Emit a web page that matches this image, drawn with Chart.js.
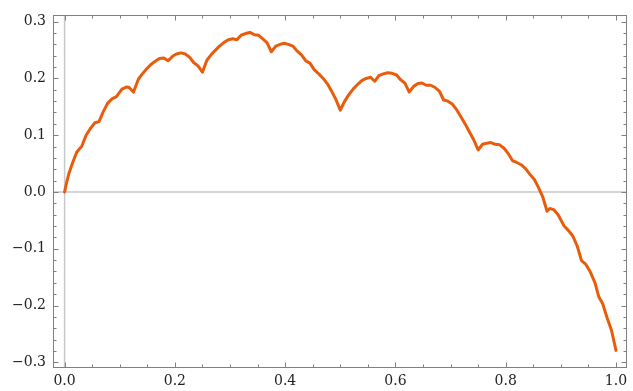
<!DOCTYPE html>
<html>
<head>
<meta charset="utf-8">
<script src="https://cdn.jsdelivr.net/npm/chart.js@4"></script>
<style>
  html, body { margin: 0; padding: 0; background: #fff; }
  #wrap { width: 633px; height: 391px; }
</style>
</head>
<body>
<div id="wrap"><canvas id="plot"></canvas></div>
<script>
// values
const xs = [0, 0.004, 0.008, 0.013, 0.016, 0.022, 0.028, 0.031, 0.039, 0.047, 0.055, 0.0625,
  0.070, 0.078, 0.086, 0.094, 0.104, 0.113, 0.117, 0.125,
  0.134, 0.141, 0.149, 0.156, 0.164, 0.172, 0.180, 0.1875,
  0.197, 0.203, 0.211, 0.219, 0.227, 0.234, 0.242, 0.25,
  0.258, 0.266, 0.276, 0.281, 0.290, 0.297, 0.305, 0.3125,
  0.320, 0.328, 0.336, 0.344, 0.352, 0.359, 0.367, 0.375,
  0.383, 0.391, 0.398, 0.406, 0.414, 0.421, 0.430, 0.4375,
  0.445, 0.453, 0.461, 0.469, 0.477, 0.484, 0.492, 0.5,
  0.508, 0.516, 0.524, 0.531, 0.539, 0.547, 0.555, 0.5625,
  0.570, 0.578, 0.586, 0.594, 0.602, 0.609, 0.617, 0.625,
  0.633, 0.641, 0.648, 0.656, 0.664, 0.672, 0.680, 0.6875,
  0.695, 0.703, 0.711, 0.719, 0.727, 0.734, 0.742, 0.75,
  0.758, 0.766, 0.773, 0.781, 0.789, 0.797, 0.805, 0.8125,
  0.820, 0.828, 0.836, 0.844, 0.852, 0.859, 0.867, 0.875,
  0.880, 0.887, 0.895, 0.906, 0.914, 0.922, 0.930, 0.9375,
  0.945, 0.953, 0.962, 0.969, 0.976, 0.984, 0.992, 1.0];
const ys = [0, 0.018, 0.033, 0.047, 0.055, 0.070, 0.077, 0.080, 0.100, 0.112, 0.122, 0.124,
  0.141, 0.156, 0.164, 0.168, 0.181, 0.185, 0.184, 0.176,
  0.199, 0.208, 0.217, 0.224, 0.230, 0.235, 0.236, 0.231,
  0.240, 0.243, 0.245, 0.243, 0.237, 0.228, 0.222, 0.211,
  0.232, 0.242, 0.252, 0.257, 0.264, 0.268, 0.270, 0.268,
  0.276, 0.279, 0.281, 0.277, 0.276, 0.270, 0.263, 0.247,
  0.257, 0.260, 0.262, 0.260, 0.257, 0.249, 0.241, 0.231,
  0.227, 0.215, 0.208, 0.200, 0.190, 0.178, 0.163, 0.144,
  0.160, 0.172, 0.182, 0.189, 0.196, 0.200, 0.202, 0.195,
  0.205, 0.208, 0.210, 0.209, 0.206, 0.198, 0.192, 0.176,
  0.186, 0.191, 0.192, 0.188, 0.188, 0.184, 0.177, 0.162,
  0.160, 0.155, 0.145, 0.132, 0.119, 0.106, 0.092, 0.074,
  0.084, 0.086, 0.087, 0.084, 0.083, 0.077, 0.067, 0.055,
  0.052, 0.048, 0.041, 0.031, 0.022, 0.009, -0.008, -0.034,
  -0.029, -0.031, -0.040, -0.060, -0.068, -0.078, -0.096, -0.121,
  -0.127, -0.140, -0.160, -0.185, -0.197, -0.222, -0.244, -0.279];

const xTicks = [0, 0.2, 0.4, 0.6, 0.8, 1.0];
const yTicks = [-0.3, -0.2, -0.1, 0, 0.1, 0.2, 0.3];
const xMinor = [0.05, 0.1, 0.15, 0.25, 0.3, 0.35, 0.45, 0.5, 0.55, 0.65, 0.7, 0.75, 0.85, 0.9, 0.95];
const yMinor = [-0.28, -0.26, -0.24, -0.22, -0.18, -0.16, -0.14, -0.12, -0.08, -0.06, -0.04, -0.02,
  0.02, 0.04, 0.06, 0.08, 0.12, 0.14, 0.16, 0.18, 0.22, 0.24, 0.26, 0.28];

const points = xs.map((x, i) => ({ x: x, y: ys[i] }));

function fmt(v) {
  let s = Math.abs(v) < 1e-9 ? '0.0' : v.toFixed(1);
  return s.replace('-', '\u2212');
}

// zero axes under the curve, frame with inward ticks on top
const framePlugin = {
  id: 'frame',
  beforeDatasetsDraw(chart) {
    const { ctx, chartArea: a, scales } = chart;
    const x0 = scales.x.getPixelForValue(0), y0 = scales.y.getPixelForValue(0);
    ctx.save();
    ctx.strokeStyle = '#c8c8c8';
    ctx.lineWidth = 1.5;
    ctx.beginPath();
    ctx.moveTo(x0, a.top); ctx.lineTo(x0, a.bottom);
    ctx.moveTo(a.left, y0); ctx.lineTo(a.right, y0);
    ctx.stroke();
    ctx.restore();
  },
  afterDraw(chart) {
    const { ctx, chartArea: a, scales } = chart;
    const L = Math.round(a.left) + 0.5, R = Math.round(a.right) - 0.5;
    const T = Math.round(a.top) + 0.5, B = Math.round(a.bottom) - 0.5;
    ctx.save();
    ctx.strokeStyle = '#808080';
    ctx.lineWidth = 1;
    ctx.strokeRect(L, T, R - L, B - T);
    ctx.beginPath();
    xTicks.concat(xMinor).forEach(v => {
      const len = xTicks.includes(v) ? 5 : 3;
      const px = Math.round(scales.x.getPixelForValue(v)) + 0.5;
      ctx.moveTo(px, B); ctx.lineTo(px, B - len);
      ctx.moveTo(px, T); ctx.lineTo(px, T + len);
    });
    yTicks.concat(yMinor).forEach(v => {
      const len = yTicks.includes(v) ? 5 : 3;
      const py = Math.round(scales.y.getPixelForValue(v)) + 0.5;
      ctx.moveTo(L, py); ctx.lineTo(L + len, py);
      ctx.moveTo(R, py); ctx.lineTo(R - len, py);
    });
    ctx.stroke();
    ctx.restore();
  }
};

const tickFont = { family: 'DejaVu Serif', size: 14 };

new Chart(document.getElementById('plot'), {
  type: 'scatter',
  data: {
    datasets: [{
      data: points,
      showLine: true,
      borderColor: 'rgb(232,92,12)',
      borderWidth: 3,
      pointRadius: 0,
      tension: 0,
      borderJoinStyle: 'round',
      borderCapStyle: 'round'
    }]
  },
  options: {
    responsive: true,
    maintainAspectRatio: false,
    animation: false,
    layout: { padding: { top: 13, right: 6, left: 0, bottom: 0 } },
    plugins: { legend: { display: false }, tooltip: { enabled: false } },
    scales: {
      x: {
        type: 'linear',
        min: -0.021,
        max: 1.02,
        afterBuildTicks: s => { s.ticks = xTicks.map(v => ({ value: v })); },
        afterFit: s => { s.height = 23; },
        grid: { display: false, drawTicks: false },
        border: { display: false },
        ticks: {
          padding: 5,
          color: '#222',
          font: tickFont,
          callback: v => fmt(v),
          maxRotation: 0,
          autoSkip: false
        }
      },
      y: {
        type: 'linear',
        min: -0.31,
        max: 0.311,
        afterBuildTicks: s => { s.ticks = yTicks.map(v => ({ value: v })); },
        afterFit: s => { s.width = 53; },
        grid: { display: false, drawTicks: false },
        border: { display: false },
        ticks: {
          padding: 7,
          color: '#222',
          font: tickFont,
          callback: v => fmt(v),
          autoSkip: false
        }
      }
    }
  },
  plugins: [framePlugin]
});
</script>
</body>
</html>
